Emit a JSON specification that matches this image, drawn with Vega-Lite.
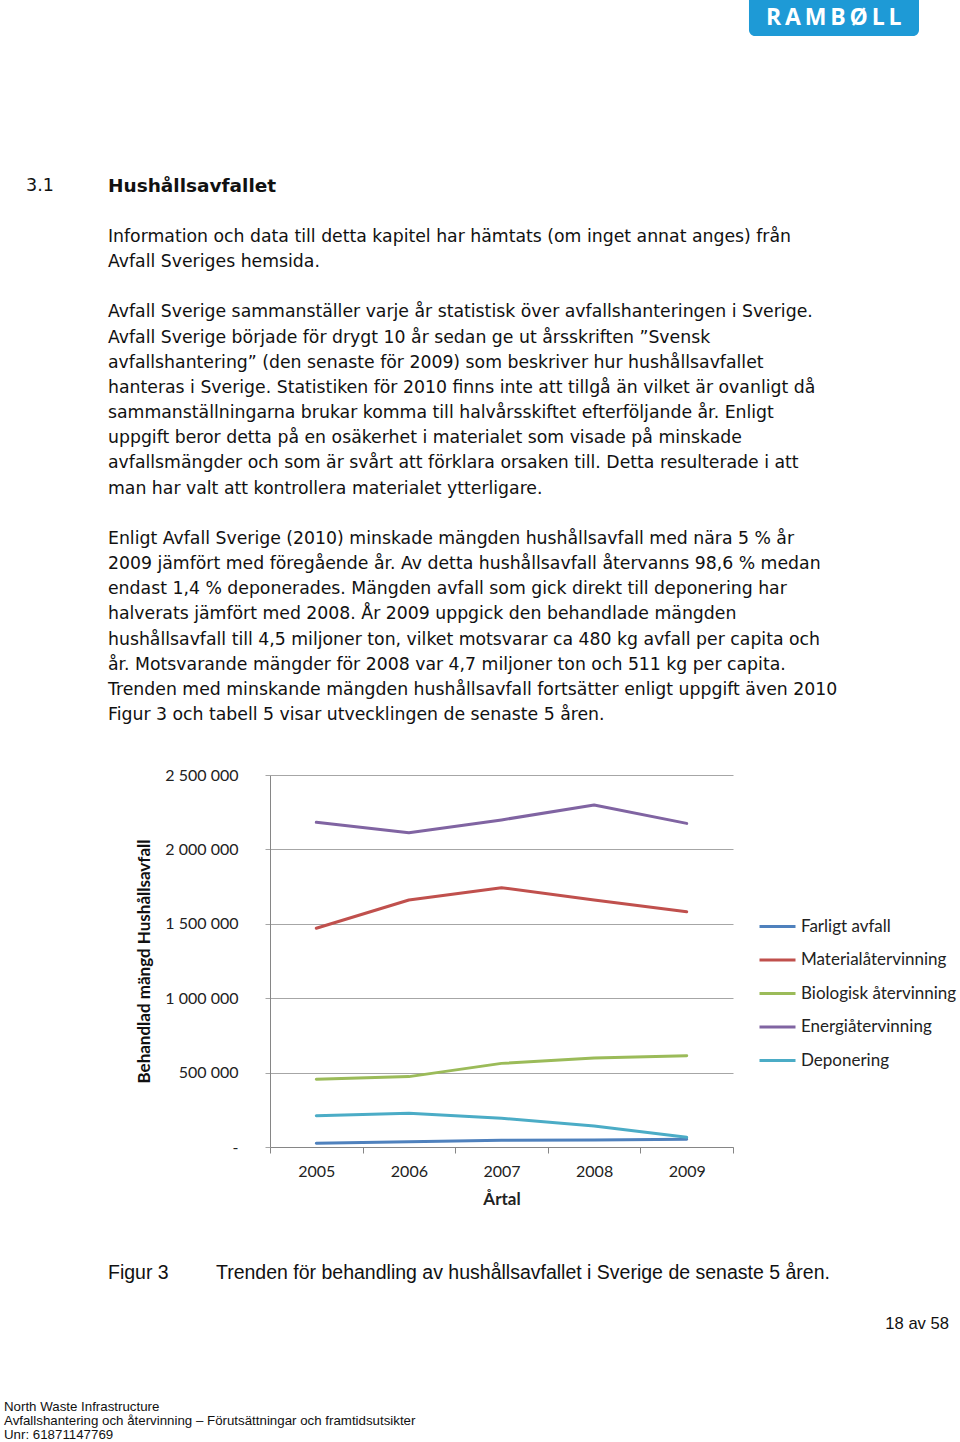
{
  "$schema": "https://vega.github.io/schema/vega-lite/v6.json",
  "padding": {"left": 3, "top": 0, "right": 0, "bottom": 0},
  "background": "white",
  "spacing": 0,
  "bounds": "flush",
  "config": {"view": {"stroke": null}},
  "datasets": {
    "page_top": [
      {"kind": "logo", "pos": 155.83, "pos_end": 191.25, "line": -9.4197, "line_end": -7.989},
      {"kind": "logotext", "pos": 173.5, "line": -8.70, "text": "R\u2009A\u2009M\u2009B\u2009Ø\u2009L\u2009L"},
      {"kind": "num", "pos": 5.21, "line": -2.03, "text": "3.1"},
      {"kind": "head", "pos": 22.29, "line": -2.03, "text": "Hushållsavfallet"},
      {"kind": "body", "pos": 22.29, "line": 0, "text": "Information och data till detta kapitel har hämtats (om inget annat anges) från"},
      {"kind": "body", "pos": 22.29, "line": 1, "text": "Avfall Sveriges hemsida."},
      {"kind": "body", "pos": 22.29, "line": 3, "text": "Avfall Sverige sammanställer varje år statistisk över avfallshanteringen i Sverige."},
      {"kind": "body", "pos": 22.29, "line": 4, "text": "Avfall Sverige började för drygt 10 år sedan ge ut årsskriften ”Svensk"},
      {"kind": "body", "pos": 22.29, "line": 5, "text": "avfallshantering” (den senaste för 2009) som beskriver hur hushållsavfallet"},
      {"kind": "body", "pos": 22.29, "line": 6, "text": "hanteras i Sverige. Statistiken för 2010 finns inte att tillgå än vilket är ovanligt då"},
      {"kind": "body", "pos": 22.29, "line": 7, "text": "sammanställningarna brukar komma till halvårsskiftet efterföljande år. Enligt"},
      {"kind": "body", "pos": 22.29, "line": 8, "text": "uppgift beror detta på en osäkerhet i materialet som visade på minskade"},
      {"kind": "body", "pos": 22.29, "line": 9, "text": "avfallsmängder och som är svårt att förklara orsaken till. Detta resulterade i att"},
      {"kind": "body", "pos": 22.29, "line": 10, "text": "man har valt att kontrollera materialet ytterligare."},
      {"kind": "body", "pos": 22.29, "line": 12, "text": "Enligt Avfall Sverige (2010) minskade mängden hushållsavfall med nära 5 % år"},
      {"kind": "body", "pos": 22.29, "line": 13, "text": "2009 jämfört med föregående år. Av detta hushållsavfall återvanns 98,6 % medan"},
      {"kind": "body", "pos": 22.29, "line": 14, "text": "endast 1,4 % deponerades. Mängden avfall som gick direkt till deponering har"},
      {"kind": "body", "pos": 22.29, "line": 15, "text": "halverats jämfört med 2008. År 2009 uppgick den behandlade mängden"},
      {"kind": "body", "pos": 22.29, "line": 16, "text": "hushållsavfall till 4,5 miljoner ton, vilket motsvarar ca 480 kg avfall per capita och"},
      {"kind": "body", "pos": 22.29, "line": 17, "text": "år. Motsvarande mängder för 2008 var 4,7 miljoner ton och 511 kg per capita."},
      {"kind": "body", "pos": 22.29, "line": 18, "text": "Trenden med minskande mängden hushållsavfall fortsätter enligt uppgift även 2010"},
      {"kind": "body", "pos": 22.29, "line": 19, "text": "Figur 3 och tabell 5 visar utvecklingen de senaste 5 åren."}
    ],
    "page_bottom": [
      {"kind": "caption", "pos": 22.29, "line": 41.18, "text": "Figur 3"},
      {"kind": "caption", "pos": 44.79, "line": 41.18, "text": "Trenden för behandling av hushållsavfallet i Sverige de senaste 5 åren."},
      {"kind": "pageno", "pos": 197.5, "line": 43.2, "text": "18 av 58"},
      {"kind": "footer", "pos": 0.625, "line": 46.5, "text": "North Waste Infrastructure"},
      {"kind": "footer", "pos": 0.625, "line": 47.06, "text": "Avfallshantering och återvinning – Förutsättningar och framtidsutsikter"},
      {"kind": "footer", "pos": 0.625, "line": 47.62, "text": "Unr: 61871147769"}
    ],
    "series": [
      {"type": "Farligt avfall", "year": "2005", "tonnes": 25000},
      {"type": "Farligt avfall", "year": "2006", "tonnes": 36000},
      {"type": "Farligt avfall", "year": "2007", "tonnes": 45000},
      {"type": "Farligt avfall", "year": "2008", "tonnes": 47000},
      {"type": "Farligt avfall", "year": "2009", "tonnes": 52000},
      {"type": "Materialåtervinning", "year": "2005", "tonnes": 1470000},
      {"type": "Materialåtervinning", "year": "2006", "tonnes": 1660000},
      {"type": "Materialåtervinning", "year": "2007", "tonnes": 1743000},
      {"type": "Materialåtervinning", "year": "2008", "tonnes": 1660000},
      {"type": "Materialåtervinning", "year": "2009", "tonnes": 1581000},
      {"type": "Biologisk återvinning", "year": "2005", "tonnes": 455000},
      {"type": "Biologisk återvinning", "year": "2006", "tonnes": 473000},
      {"type": "Biologisk återvinning", "year": "2007", "tonnes": 562000},
      {"type": "Biologisk återvinning", "year": "2008", "tonnes": 598000},
      {"type": "Biologisk återvinning", "year": "2009", "tonnes": 614000},
      {"type": "Energiåtervinning", "year": "2005", "tonnes": 2182000},
      {"type": "Energiåtervinning", "year": "2006", "tonnes": 2112000},
      {"type": "Energiåtervinning", "year": "2007", "tonnes": 2198000},
      {"type": "Energiåtervinning", "year": "2008", "tonnes": 2298000},
      {"type": "Energiåtervinning", "year": "2009", "tonnes": 2175000},
      {"type": "Deponering", "year": "2005", "tonnes": 210000},
      {"type": "Deponering", "year": "2006", "tonnes": 226000},
      {"type": "Deponering", "year": "2007", "tonnes": 193000},
      {"type": "Deponering", "year": "2008", "tonnes": 141000},
      {"type": "Deponering", "year": "2009", "tonnes": 65000}
    ]
  },
  "vconcat": [
    {
      "width": 691,
      "height": 775,
      "data": {"name": "page_top"},
      "encoding": {
        "x": {"field": "pos", "type": "quantitative", "scale": {"domain": [56.042, 200], "nice": false, "zero": false}, "axis": null},
        "y": {"field": "line", "type": "quantitative", "scale": {"domain": [-9.4197, 21.383], "nice": false, "zero": false, "reverse": true}, "axis": null}
      },
      "layer": [
        {
          "transform": [{"filter": "datum.kind == 'logo'"}],
          "mark": {"type": "rect", "color": "#1e9ad6", "cornerRadiusBottomLeft": 6, "cornerRadiusBottomRight": 6},
          "encoding": {"x2": {"field": "pos_end"}, "y2": {"field": "line_end"}}
        },
        {
          "transform": [{"filter": "datum.kind == 'logotext'"}],
          "mark": {"type": "text", "font": "Open Sans", "fontWeight": "bold", "fontSize": 23, "color": "white", "align": "center", "baseline": "middle"},
          "encoding": {"text": {"field": "text"}}
        },
        {
          "transform": [{"filter": "datum.kind == 'num'"}],
          "mark": {"type": "text", "font": "DejaVu Sans", "fontSize": 17.5, "color": "#111", "align": "left", "baseline": "middle"},
          "encoding": {"text": {"field": "text"}}
        },
        {
          "transform": [{"filter": "datum.kind == 'head'"}],
          "mark": {"type": "text", "font": "DejaVu Sans", "fontWeight": "bold", "fontSize": 18.5, "color": "#111", "align": "left", "baseline": "middle"},
          "encoding": {"text": {"field": "text"}}
        },
        {
          "transform": [{"filter": "datum.kind == 'body'"}],
          "mark": {"type": "text", "font": "DejaVu Sans", "fontSize": 17.3, "color": "#111", "align": "left", "baseline": "middle"},
          "encoding": {"text": {"field": "text"}}
        }
      ]
    },
    {
      "width": 463,
      "height": 372,
      "data": {"name": "series"},
      "mark": {"type": "line", "strokeWidth": 3, "strokeCap": "round", "strokeJoin": "round"},
      "encoding": {
        "x": {
          "field": "year", "type": "ordinal",
          "scale": {"type": "band", "paddingInner": 0, "paddingOuter": 0},
          "bandPosition": 0.5,
          "axis": {
            "title": "Årtal", "labelAngle": 0, "tickBand": "extent", "grid": false,
            "domainColor": "#868686", "tickColor": "#868686", "tickSize": 6,
            "labelPadding": 10, "labelFont": "Lato", "labelFontSize": 16, "labelColor": "#222",
            "titleFont": "Lato", "titleFontSize": 17, "titleFontWeight": "bold", "titleColor": "#222", "titlePadding": 12
          }
        },
        "y": {
          "field": "tonnes", "type": "quantitative",
          "scale": {"domain": [0, 2500000], "nice": false},
          "axis": {
            "title": "Behandlad mängd Hushållsavfall",
            "values": [0, 500000, 1000000, 1500000, 2000000, 2500000],
            "labelExpr": "datum.value == 0 ? '-' : replace(format(datum.value, ','), regexp(',', 'g'), ' ')",
            "grid": true, "gridColor": "#a6a6a6", "domainColor": "#868686", "tickColor": "#a6a6a6", "tickSize": 5,
            "labelPadding": 27, "labelFont": "Lato", "labelFontSize": 16, "labelColor": "#222",
            "titleFont": "Lato", "titleFontSize": 17, "titleFontWeight": "bold", "titleColor": "#111", "titlePadding": 11
          }
        },
        "color": {
          "field": "type", "type": "nominal",
          "scale": {
            "domain": ["Farligt avfall", "Materialåtervinning", "Biologisk återvinning", "Energiåtervinning", "Deponering"],
            "range": ["#4f81bd", "#c0504d", "#9bbb59", "#8064a2", "#4bacc6"]
          },
          "legend": {
            "orient": "none", "legendX": 488, "legendY": 907, "title": null,
            "symbolType": "stroke", "symbolSize": 1296, "symbolStrokeWidth": 3,
            "labelFont": "Lato", "labelFontSize": 17, "labelColor": "#222", "labelOffset": 4,
            "rowPadding": 5.5, "padding": 0
          }
        }
      }
    },
    {
      "width": 691,
      "height": 295,
      "data": {"name": "page_bottom"},
      "encoding": {
        "x": {"field": "pos", "type": "quantitative", "scale": {"domain": [56.042, 200], "nice": false, "zero": false}, "axis": null},
        "y": {"field": "line", "type": "quantitative", "scale": {"domain": [36.168, 47.893], "nice": false, "zero": false, "reverse": true}, "axis": null}
      },
      "layer": [
        {
          "transform": [{"filter": "datum.kind == 'caption'"}],
          "mark": {"type": "text", "font": "Liberation Sans", "fontSize": 19.5, "color": "#111", "align": "left", "baseline": "middle"},
          "encoding": {"text": {"field": "text"}}
        },
        {
          "transform": [{"filter": "datum.kind == 'pageno'"}],
          "mark": {"type": "text", "font": "Liberation Sans", "fontSize": 16.6, "color": "#111", "align": "right", "baseline": "middle"},
          "encoding": {"text": {"field": "text"}}
        },
        {
          "transform": [{"filter": "datum.kind == 'footer'"}],
          "mark": {"type": "text", "font": "Liberation Sans", "fontSize": 13.3, "color": "#111", "align": "left", "baseline": "middle"},
          "encoding": {"text": {"field": "text"}}
        }
      ]
    }
  ]
}
